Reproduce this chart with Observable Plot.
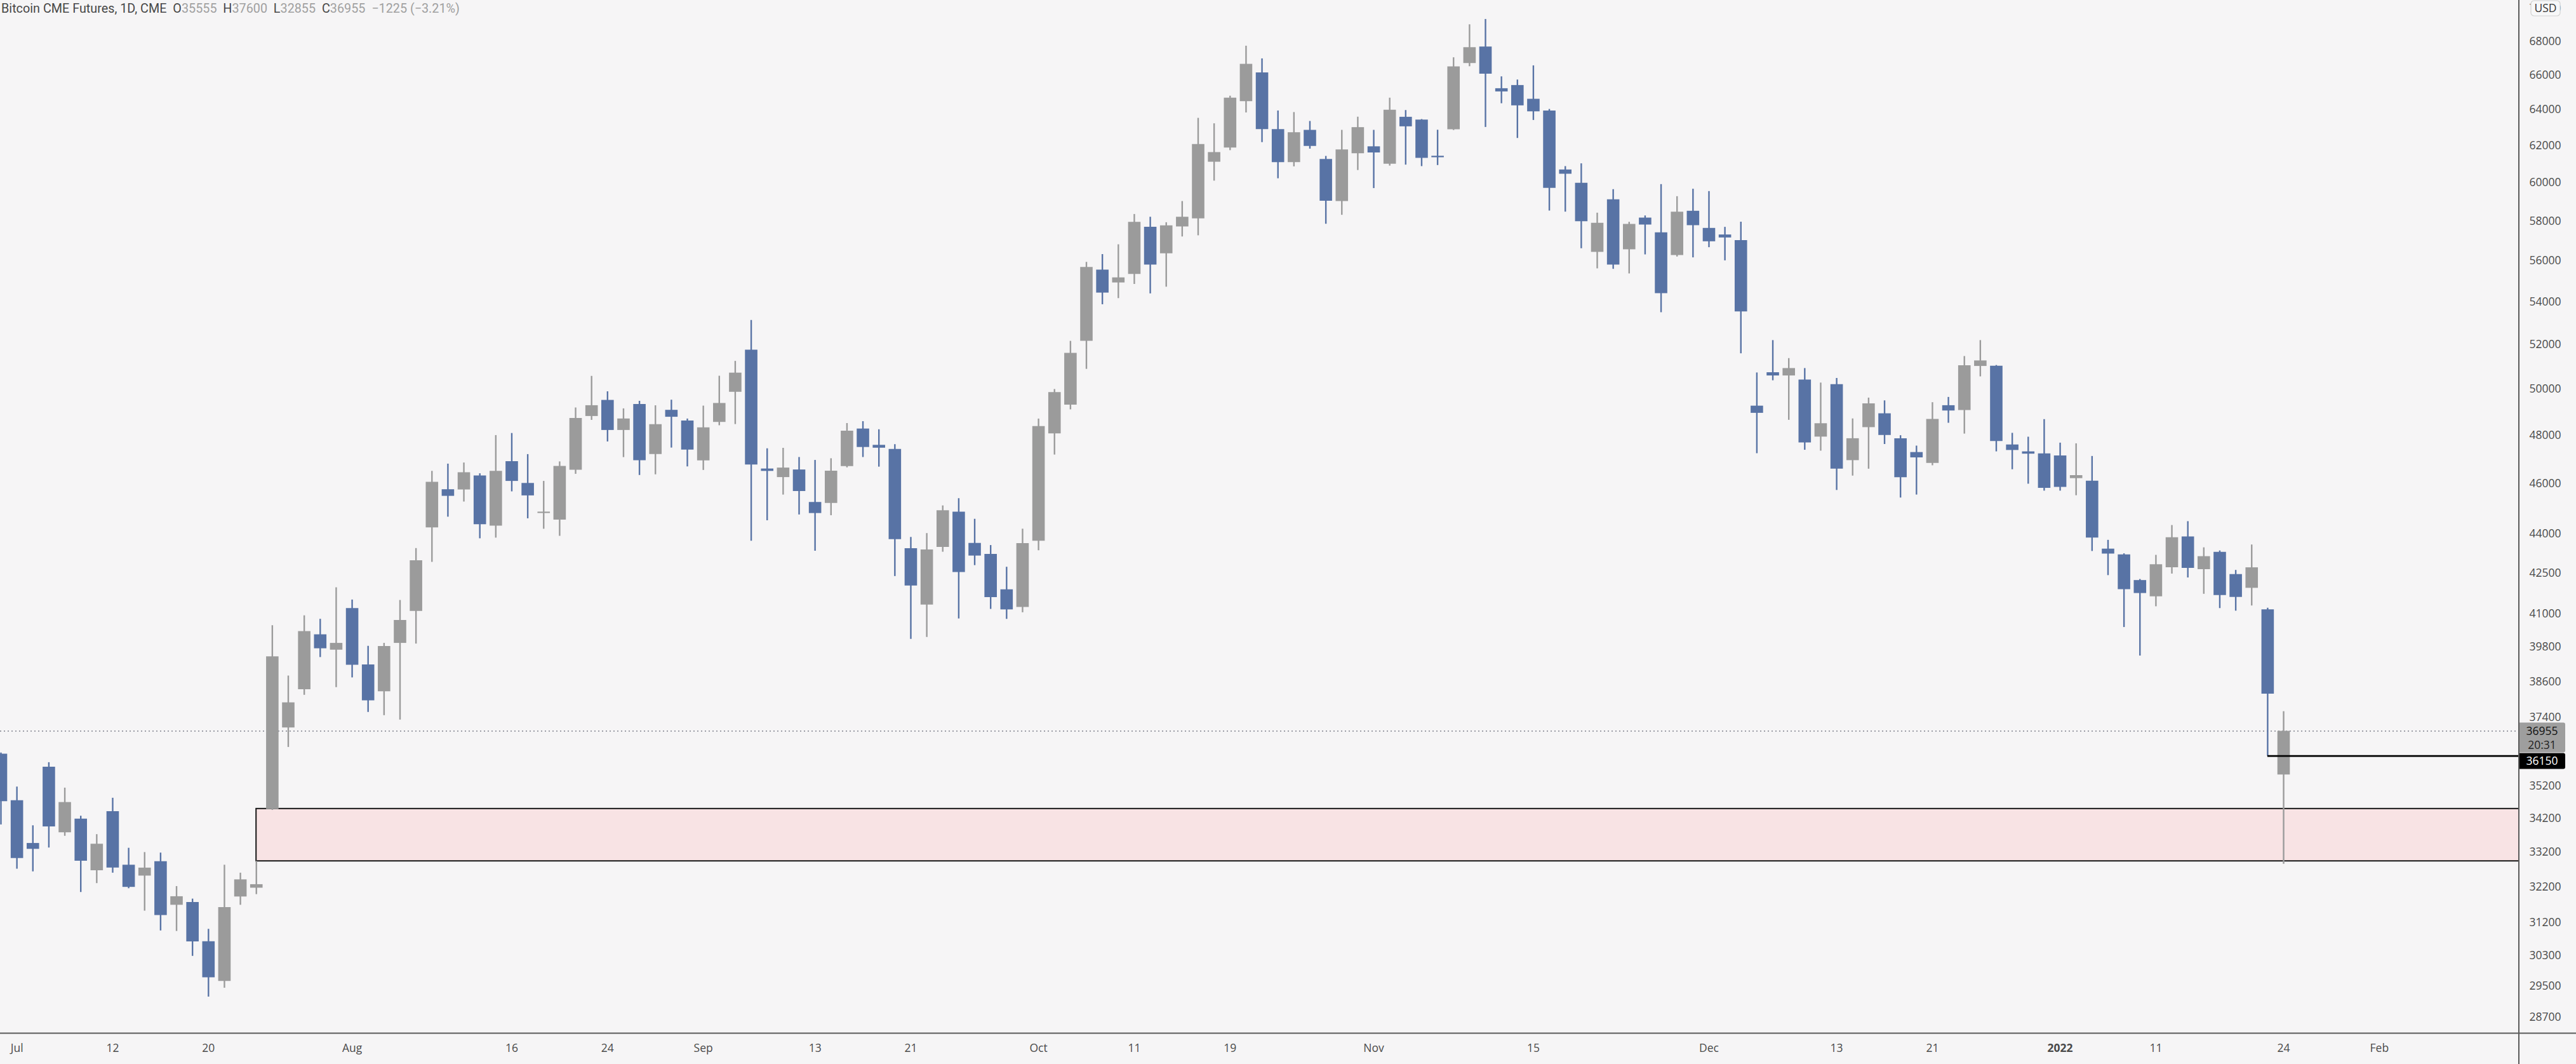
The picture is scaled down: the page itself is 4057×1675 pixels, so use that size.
<!DOCTYPE html>
<html><head><meta charset="utf-8">
<script src="https://cdn.jsdelivr.net/npm/d3@7"></script>
<script src="https://cdn.jsdelivr.net/npm/@observablehq/plot@0.6"></script>
<style>
html,body{margin:0;padding:0;background:#f6f5f6;}
#wrap{position:relative;width:4057px;height:1675px;overflow:hidden;}
#title{position:absolute;left:2px;top:2px;font-family:Roboto,"Open Sans",sans-serif;font-size:19.8px;color:#474747;white-space:pre;z-index:2;}
#title .v{color:#a0a0a0;}
</style></head><body>
<div id="wrap"><div id="title"></div><div id="chart"></div></div>
<script>
// ---- data ----
const dates = ["2021-06-30","2021-07-01","2021-07-02","2021-07-06","2021-07-07","2021-07-08","2021-07-09","2021-07-12","2021-07-13","2021-07-14","2021-07-15","2021-07-16","2021-07-19","2021-07-20","2021-07-21","2021-07-22","2021-07-23","2021-07-26","2021-07-27","2021-07-28","2021-07-29","2021-07-30","2021-08-02","2021-08-03","2021-08-04","2021-08-05","2021-08-06","2021-08-09","2021-08-10","2021-08-11","2021-08-12","2021-08-13","2021-08-16","2021-08-17","2021-08-18","2021-08-19","2021-08-20","2021-08-23","2021-08-24","2021-08-25","2021-08-26","2021-08-27","2021-08-30","2021-08-31","2021-09-01","2021-09-02","2021-09-03","2021-09-07","2021-09-08","2021-09-09","2021-09-10","2021-09-13","2021-09-14","2021-09-15","2021-09-16","2021-09-17","2021-09-20","2021-09-21","2021-09-22","2021-09-23","2021-09-24","2021-09-27","2021-09-28","2021-09-29","2021-09-30","2021-10-01","2021-10-04","2021-10-05","2021-10-06","2021-10-07","2021-10-08","2021-10-11","2021-10-12","2021-10-13","2021-10-14","2021-10-15","2021-10-18","2021-10-19","2021-10-20","2021-10-21","2021-10-22","2021-10-25","2021-10-26","2021-10-27","2021-10-28","2021-10-29","2021-11-01","2021-11-02","2021-11-03","2021-11-04","2021-11-05","2021-11-08","2021-11-09","2021-11-10","2021-11-11","2021-11-12","2021-11-15","2021-11-16","2021-11-17","2021-11-18","2021-11-19","2021-11-22","2021-11-23","2021-11-24","2021-11-26","2021-11-29","2021-11-30","2021-12-01","2021-12-02","2021-12-03","2021-12-06","2021-12-07","2021-12-08","2021-12-09","2021-12-10","2021-12-13","2021-12-14","2021-12-15","2021-12-16","2021-12-17","2021-12-20","2021-12-21","2021-12-22","2021-12-23","2021-12-27","2021-12-28","2021-12-29","2021-12-30","2021-12-31","2022-01-03","2022-01-04","2022-01-05","2022-01-06","2022-01-07","2022-01-10","2022-01-11","2022-01-12","2022-01-13","2022-01-14","2022-01-18","2022-01-19","2022-01-20","2022-01-21","2022-01-24"];
const open = [36216,34756,33465,35798,33783,34193,32667,34418,32828,32514,32930,31686,31762,30683,29621,31919,32168,34480,37063,38339,40244,39701,41188,39186,38270,39940,41086,44232,45750,45741,46312,44303,46900,46005,44800,44536,46546,48810,49509,48211,49333,47200,49077,48617,46932,48556,49866,51757,46596,46244,46556,45238,45200,46693,48272,47581,47410,43427,41314,43474,44854,43630,43209,41877,41227,43713,48068,49303,52162,55553,54926,55344,57694,56359,57714,58128,61112,61887,64470,66135,62900,61091,62857,61259,59024,61572,61950,61007,63588,63434,61435,62888,66683,67662,65214,65398,64608,63944,60694,59982,56433,59112,56560,58167,57413,56274,58519,57639,57305,57018,49258,50735,50591,50407,47929,50202,46942,48332,48927,47860,47279,46826,49278,49068,51018,51028,47597,47308,47222,47135,46202,46098,43410,43192,42221,41616,42699,43880,42630,43290,42445,41932,41141,35555];
const high = [36250,35176,33992,35942,35143,34281,33727,34830,33323,33197,33182,32214,31859,31019,32828,32598,32940,40567,38803,40925,40799,41952,41500,39836,39940,41483,43432,46499,46797,46844,46400,47994,48082,47193,46088,46890,49179,50572,49887,49140,49470,49274,49519,48700,49260,50579,51247,53130,47436,47456,47072,46951,47021,48506,48587,48241,47610,43861,44011,45101,45390,44570,43548,42720,44182,48699,49988,52162,55933,56320,56810,58352,58210,57929,59024,63528,63223,64785,67712,66957,63943,63855,63353,61425,62857,63593,62857,64672,63969,63460,62865,67022,69005,69330,65902,65717,66546,64029,60876,61025,58420,59647,57951,58277,59915,59278,59669,59546,57693,57958,50725,52197,51373,50923,50274,50479,48705,49610,49489,47988,47549,49409,49640,51467,52197,51060,48089,47925,48676,47674,47645,47115,43749,43230,42260,43172,44325,44477,43460,43340,42601,43569,41200,37600];
const low = [34018,32713,32636,33331,33678,32046,32299,32598,32153,31522,30975,30961,30287,29216,29446,31686,31986,34460,36430,38148,39443,38408,38740,37575,37468,37322,39916,42906,44654,45256,43809,43835,45665,44590,44180,43905,46378,48643,47724,47069,46330,46358,47467,46683,46537,48413,48464,43714,44512,45535,44741,43329,44712,46644,47072,46673,42371,40082,40150,43292,40812,42782,41158,40797,41036,43348,47175,49098,50887,53878,54171,54854,54398,54721,57205,57264,60099,61740,63832,62181,60225,60862,61824,57851,58311,60666,59705,60903,60956,60876,60933,62850,66495,63019,64354,62409,63410,58530,58475,56613,55615,55594,55366,56306,53500,56200,56158,56666,56010,51592,47231,50376,48646,47375,47337,45721,46305,46588,47616,45416,45536,46730,48519,48057,50550,47308,46566,45975,45694,45694,45508,43320,42406,40504,39495,41254,42464,42318,41711,41188,41094,41283,36150,32855];
const close = [34725,33024,33292,33960,34698,32946,33441,32744,32191,32744,31402,31926,30675,29718,31619,32406,32268,39470,37895,40358,39750,39940,39174,37965,39828,40757,42966,46051,45484,46443,44357,46499,46088,45502,44854,46703,48722,49278,48211,48703,46937,48460,48777,47381,48322,49375,50717,46762,46498,46635,45678,44798,46507,48180,47491,47461,43778,42019,43380,44910,42525,43145,41591,41140,43621,48380,49851,51614,55686,54436,55173,57949,55800,57772,58210,62076,61635,64672,66631,62900,61091,62726,61971,59044,61782,63009,61614,63986,63055,61321,61355,66483,67624,66062,65030,64234,63896,59714,60466,57983,57897,55802,57843,57811,54410,58475,57779,56962,57154,53535,48947,50591,50923,47683,48499,46588,47860,49359,47998,46239,47057,48686,49048,51049,51268,47742,47366,47212,45805,45843,46324,43840,43221,41883,41740,42816,43847,42679,43122,41663,41596,42699,38186,36955];

const yTicks = [28700,29500,30300,31200,32200,33200,34200,35200,37400,38600,39800,41000,42500,44000,46000,48000,50000,52000,54000,56000,58000,60000,62000,64000,66000,68000,70000];
const xTickDates = ["2021-07-01","2021-07-12","2021-07-20","2021-08-02","2021-08-16","2021-08-24","2021-09-01","2021-09-13","2021-09-21","2021-10-01","2021-10-11","2021-10-19","2021-11-01","2021-11-15","2021-12-01","2021-12-13","2021-12-21","2022-01-03","2022-01-11","2022-01-24","2022-02-01"];
const xTickText = ["Jul","12","20","Aug","16","24","Sep","13","21","Oct","11","19","Nov","15","Dec","13","21","2022","11","24","Feb"];
const xTickBold = ["2022"];

const gapStartDate = "2021-07-23";
const gapTop = 34500;
const gapBottom = 32940;
const levelPrice = 36150;
const levelStartDate = "2022-01-21";
const lastPrice = 36955;
const countdown = "20:31";
const symbolName = "Bitcoin CME Futures, 1D, CME";
const ohlcLast = {O: 35555, H: 37600, L: 32855, C: 36955};
const changeText = "\u22121225 (\u22123.21%)";

// ---- helpers ----
function idxOf(d) {
  const i = dates.indexOf(d);
  if (i >= 0) return i;
  // future trading days (weekdays) after the last bar
  let t = new Date(dates[dates.length - 1] + "T00:00:00Z"), target = new Date(d + "T00:00:00Z"), n = dates.length - 1;
  while (t < target) { t = new Date(t.getTime() + 86400000); const wd = t.getUTCDay(); if (wd !== 0 && wd !== 6) n++; }
  return n;
}

const bars = dates.map((d, i) => ({i, date: d, open: open[i], high: high[i], low: low[i], close: close[i]}));
const upBars = bars.filter(b => b.close >= b.open);
const downBars = bars.filter(b => b.close < b.open);
const ticks = xTickDates.map((d, k) => ({i: idxOf(d), label: xTickText[k], bold: xTickBold.includes(xTickText[k])}));
const tickLabel = new Map(ticks.map(t => [t.i, t.label]));

// ---- layout / style ----
const W = 4057, H = 1675, MR = 90, MB = 48.5;
const barStep = 25.14;
const plotW = W - MR;
const xLo = -1 / barStep, xHi = xLo + plotW / barStep;
const UP = "#9b9b9b", DOWN = "#5873a5", BG = "#f6f5f6", TXT = "#4a4a4a";
const FONT = "'Open Sans', 'DejaVu Sans', sans-serif";
const gap = [{start: idxOf(gapStartDate), top: gapTop, bottom: gapBottom}];
const levelIdx = idxOf(levelStartDate);

const plot = Plot.plot({
  width: W, height: H,
  marginLeft: 0, marginRight: MR, marginTop: 0, marginBottom: MB,
  x: {domain: [xLo, xHi]},
  y: {type: "log", domain: [28286, 70504]},
  style: {background: BG, fontFamily: FONT, overflow: "visible"},
  marks: [
    Plot.rect(gap, {x1: "start", x2: () => xHi, y1: "bottom", y2: "top", fill: "#f8e3e4", stroke: "#161616", strokeWidth: 2}),
    Plot.ruleY([lastPrice], {stroke: "#8e9099", strokeWidth: 1.6, strokeDasharray: "2,4"}),
    Plot.ruleX(upBars, {x: "i", y1: "low", y2: "high", stroke: UP, strokeWidth: 2.4}),
    Plot.ruleX(downBars, {x: "i", y1: "low", y2: "high", stroke: DOWN, strokeWidth: 2.4}),
    Plot.ruleX(upBars, {x: "i", y1: "open", y2: "close", stroke: UP, strokeWidth: 19.6}),
    Plot.ruleX(downBars, {x: "i", y1: "open", y2: "close", stroke: DOWN, strokeWidth: 19.6}),
    Plot.ruleY([levelPrice], {x1: () => levelIdx, x2: () => xHi, stroke: "#000", strokeWidth: 2.6}),
    Plot.axisY(yTicks, {anchor: "right", tickSize: 0, tickPadding: 16, fontSize: 17.5, fill: TXT, tickFormat: d => String(d), label: null}),
    Plot.axisX(ticks.filter(t => !t.bold).map(t => t.i), {anchor: "bottom", tickSize: 0, tickPadding: 17, fontSize: 17.5, fill: TXT, tickFormat: i => tickLabel.get(i), label: null}),
    Plot.axisX(ticks.filter(t => t.bold).map(t => t.i), {anchor: "bottom", tickSize: 0, tickPadding: 17, fontSize: 17.5, fontWeight: "bold", fill: TXT, tickFormat: i => tickLabel.get(i), label: null})
  ]
});
document.getElementById("chart").appendChild(plot);

// ---- price-scale decorations drawn with the plot's own scales ----
const ys = plot.scale("y");
const svg = d3.select(plot);
const axisX = plotW, axisY = H - MB;
const g = svg.append("g").attr("font-family", FONT).attr("font-size", 17.5);
// price boxes
const yLast = ys.apply(lastPrice);
const boxW = 73;
const grayTop = yLast - 13, grayBot = yLast + 34;
g.append("path").attr("d", `M${axisX},${grayTop}h${boxW-3}a3,3 0 0 1 3,3v${grayBot-grayTop-6}a3,3 0 0 1 -3,3h${-(boxW-3)}z`).attr("fill", "#9e9e9e");
g.append("text").attr("x", axisX + boxW/2).attr("y", yLast).attr("dy", "0.35em").attr("text-anchor", "middle").attr("fill", "#111").text(String(lastPrice));
g.append("text").attr("x", axisX + boxW/2).attr("y", yLast + 22).attr("dy", "0.35em").attr("text-anchor", "middle").attr("fill", "#222").text(countdown);
const blackTop = Math.max(grayBot + 1, ys.apply(levelPrice) - 12), blackBot = blackTop + 25;
g.append("path").attr("d", `M${axisX},${blackTop}h${boxW-3}a3,3 0 0 1 3,3v${blackBot-blackTop-6}a3,3 0 0 1 -3,3h${-(boxW-3)}z`).attr("fill", "#000");
g.append("text").attr("x", axisX + boxW/2).attr("y", (blackTop + blackBot)/2).attr("dy", "0.35em").attr("text-anchor", "middle").attr("fill", "#fff").text(String(levelPrice));
// axis lines
svg.append("line").attr("x1", axisX).attr("x2", axisX).attr("y1", 0).attr("y2", H).attr("stroke", "#5a5a5a").attr("stroke-width", 2);
svg.append("line").attr("x1", 0).attr("x2", W).attr("y1", axisY).attr("y2", axisY).attr("stroke", "#5a5a5a").attr("stroke-width", 2);
// currency badge
g.append("rect").attr("x", axisX + 19).attr("y", 1).attr("width", 46).attr("height", 24).attr("rx", 5).attr("fill", "#f7f7f8").attr("stroke", "#d2d2d2").attr("stroke-width", 1.2);
g.append("text").attr("x", axisX + 42).attr("y", 13).attr("dy", "0.35em").attr("text-anchor", "middle").attr("fill", "#333").text("USD");

// ---- title ----
const t = document.getElementById("title");
let html = symbolName + "  ";
for (const k of ["O","H","L","C"]) html += `${k}<span class="v">${ohlcLast[k]}</span>  `;
html += `<span class="v">${changeText}</span>`;
t.innerHTML = html;
</script>
</body></html>
